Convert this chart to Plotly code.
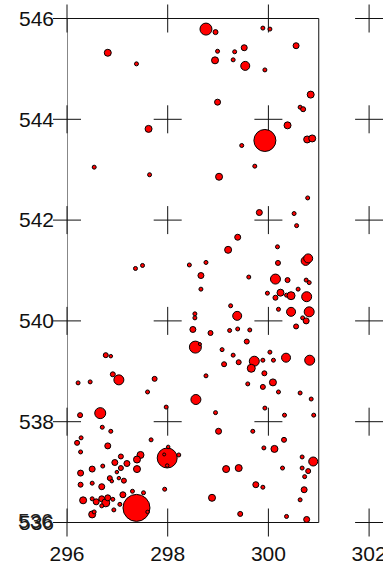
import plotly.graph_objects as go

# --- data ---
x_vals = [298.76, 298.95, 299.89, 300.03, 296.81, 297.38, 298.99, 299.33, 299.52, 298.94,
          299.30, 299.54, 299.93, 300.55, 300.84, 298.99, 300.63, 300.69,
          297.62, 300.38, 299.93, 299.47, 300.77, 300.87, 296.54, 297.64, 299.02, 299.73,
          300.78, 299.82, 300.51,
          300.56, 299.39, 300.18, 299.20, 300.74, 300.79, 300.19, 297.36, 297.50, 298.43,
          298.76, 298.66, 299.61, 300.14, 300.38, 300.75, 300.81, 298.66, 299.98, 300.24,
          300.14, 300.36, 300.45, 300.59, 300.76, 299.25, 300.20, 300.45, 300.81, 299.38,
          298.54, 298.54, 300.68, 300.75,
          298.50, 298.85, 299.23, 299.39, 299.63, 300.55, 298.55, 298.64, 299.57, 299.08,
          299.30, 300.03, 299.72, 299.66, 299.89, 300.10, 300.35, 300.82, 299.12, 299.41,
          296.77, 296.87, 296.91, 297.03, 296.22, 296.46, 297.74, 297.60, 298.76, 299.92,
          299.59, 300.09, 299.89, 300.20, 300.63, 300.85, 298.56, 297.97, 298.95, 299.93,
          300.32, 300.90, 296.26, 296.66,
          296.70, 296.87, 299.01, 299.69, 296.28, 296.20, 296.27, 296.81, 297.67, 300.31,
          299.91, 300.12, 297.99, 297.93, 298.01, 298.22, 297.99, 297.46, 297.39, 297.07,
          296.95, 297.19, 296.71, 297.07, 297.39, 296.50, 296.27, 296.99, 296.85, 296.89,
          297.03, 297.13, 296.27, 296.50, 296.69, 299.16, 299.41, 300.28, 300.67, 300.89,
          300.67, 300.79, 300.72, 299.75, 299.89, 300.71, 297.94, 297.11, 297.30, 297.52,
          297.38, 297.60, 296.32, 296.58, 296.69, 296.77, 296.81, 296.69, 296.50, 296.91,
          297.05, 296.93, 296.50, 296.54, 298.88, 299.44, 300.36, 300.63, 300.76]

y_vals = [545.79, 545.73, 545.81, 545.79, 545.32, 545.10, 545.35, 545.34, 545.42, 545.17,
          545.18, 545.06, 544.98, 545.46, 544.49, 544.34, 544.24, 544.20,
          543.81, 543.88, 543.58, 543.48, 543.60, 543.62, 543.05, 542.90, 542.86, 543.07,
          542.44, 542.15, 542.13,
          541.89, 541.66, 541.47, 541.41, 541.19, 541.24, 541.15, 541.04, 541.10, 541.11,
          541.16, 540.90, 540.87, 540.83, 540.81, 540.81, 540.76, 540.63, 540.55, 540.56,
          540.46, 540.51, 540.50, 540.63, 540.48, 540.30, 540.23, 540.18, 540.18, 540.10,
          540.14, 540.06, 540.06, 540.00,
          539.83, 539.76, 539.81, 539.84, 539.82, 539.89, 539.48, 539.54, 539.59, 539.43,
          539.32, 539.38, 539.20, 539.06, 539.22, 539.22, 539.27, 539.22, 539.14, 539.18,
          539.32, 539.30, 538.94, 538.83, 538.77, 538.79, 538.85, 538.59, 538.91, 538.96,
          538.75, 538.78, 538.69, 538.59, 538.57, 538.45, 538.44, 538.29, 538.18, 538.27,
          538.13, 538.13, 538.13, 538.17,
          537.89, 537.81, 537.81, 537.81, 537.68, 537.58, 537.40, 537.52, 537.64, 537.64,
          537.48, 537.46, 537.28, 537.35, 537.50, 537.34, 537.13, 537.34, 537.25, 537.31,
          537.19, 537.17, 537.12, 537.08, 537.06, 537.06, 536.98, 537.00, 536.88, 536.82,
          536.88, 536.83, 536.75, 536.78, 536.71, 537.06, 537.08, 537.08, 537.30, 537.21,
          537.08, 537.02, 536.91, 536.75, 536.70, 536.65, 536.66, 536.55, 536.62, 536.59,
          536.29, 536.21, 536.44, 536.41, 536.47, 536.39, 536.49, 536.33, 536.47, 536.46,
          536.36, 536.25, 536.16, 536.21, 536.49, 536.17, 536.12, 536.45, 536.06]

magnitude = [12, 5, 4, 4, 7, 4, 4, 4, 6, 7,
             4, 9, 4, 6, 7, 6, 4, 5,
             7, 7, 22, 4, 7, 7, 4, 4, 7, 4,
             4, 6, 4,
             4, 6, 4, 7, 9, 9, 5, 4, 4, 4,
             4, 6, 4, 10, 5, 4, 4, 4, 4, 7,
             5, 4, 8, 4, 10, 4, 4, 9, 10, 9,
             4, 4, 4, 6,
             6, 5, 4, 4, 4, 5, 12, 3, 5, 4,
             4, 4, 10, 8, 4, 4, 9, 10, 5, 5,
             5, 3.5, 5, 10, 4, 4, 5, 4, 4, 5,
             4, 7, 5, 4, 4, 4, 10, 4, 4, 4,
             4, 4, 5, 11,
             4, 4, 6, 4, 4, 5, 4, 6, 4, 5,
             4, 7, 20, 3, 3.5, 4, 3.5, 7, 7, 5,
             6, 6, 4, 5, 7, 6, 6, 3.5, 5, 3.5,
             3.5, 5, 5, 4, 6, 7, 7, 4, 4, 9,
             4, 5, 4, 6, 4, 6, 4, 6, 4, 4,
             27, 3.5, 7, 6, 6, 8, 6, 4, 4, 4,
             4, 4, 7, 4, 7, 5, 4, 4, 6]

x_ticks = [296, 298, 300, 302]
y_ticks = [536, 538, 540, 542, 544, 546]
box_x = [296, 301]
box_y = [536, 546]

FONT = "Liberation Sans, Arial, sans-serif"
FSIZE = 21

fig = go.Figure()

# grid crosses at tick intersections
cx = [xv for xv in x_ticks for yv in y_ticks]
cy = [yv for xv in x_ticks for yv in y_ticks]
fig.add_trace(go.Scatter(
    x=cx, y=cy, mode="markers", cliponaxis=False, hoverinfo="skip",
    marker=dict(symbol="cross-thin", size=20, opacity=1,
                line=dict(color="#111111", width=1)),
    showlegend=False))

fig.add_trace(go.Scatter(
    x=x_vals, y=y_vals, mode="markers", cliponaxis=False,
    marker=dict(size=magnitude, sizemode="diameter", opacity=1,
                color="#FF0000", line=dict(color="#000000", width=1)),
    showlegend=False))

fig.add_shape(type="rect", x0=box_x[0], x1=box_x[1], y0=box_y[0], y1=box_y[1],
              xref="x", yref="y", line=dict(color="#111111", width=1), layer="below")

# doubled "536" label as in the reference
fig.add_annotation(x=0, xref="paper", xanchor="right", y=536, yref="y",
                   text="536", showarrow=False, xshift=-12, yshift=2,
                   font=dict(family=FONT, size=FSIZE, color="#222222"))

fig.update_layout(
    width=383, height=572,
    margin=dict(l=67, r=0, t=18, b=49, autoexpand=False),
    paper_bgcolor="white", plot_bgcolor="white",
    font=dict(family=FONT, size=FSIZE, color="#111111"),
    xaxis=dict(range=[296, 302.276], tickvals=x_ticks, ticktext=[str(v) for v in x_ticks],
               showgrid=False, zeroline=False, showline=False, ticks="",
               ticklabelstandoff=16, ticklabeloverflow="allow",
               automargin=False, fixedrange=True),
    yaxis=dict(range=[535.99, 546.01], tickvals=y_ticks, ticktext=[str(v) for v in y_ticks],
               showgrid=False, zeroline=False, showline=False, ticks="",
               ticklabelstandoff=12, ticklabeloverflow="allow",
               automargin=False, fixedrange=True),
)

fig.write_html("out.html", config={"displayModeBar": False},
               post_script="document.body.style.margin='0';document.body.style.overflow='hidden';")
